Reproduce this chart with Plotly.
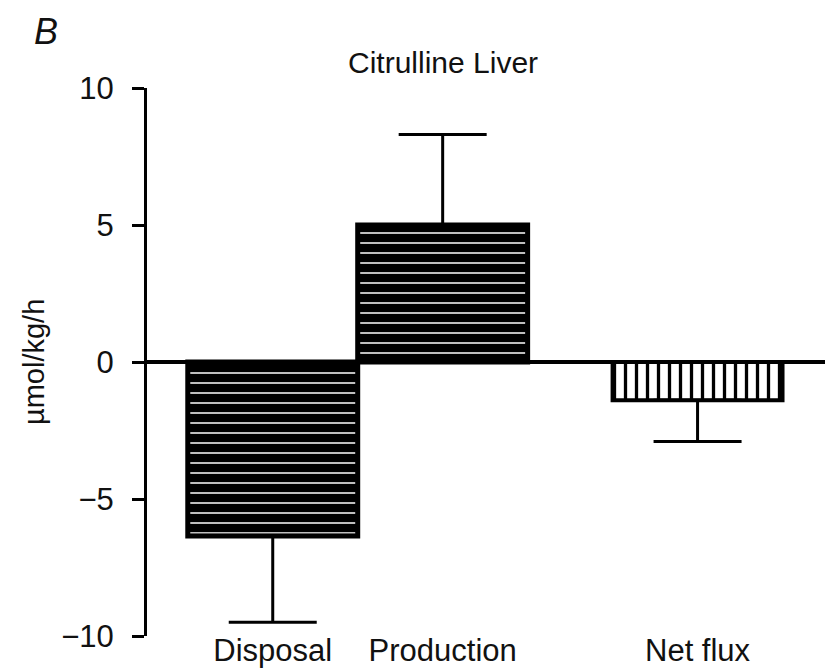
import plotly.graph_objects as go

# Citrulline flux across the liver (mean with one-sided error)
categories = ["Disposal", "Production", "Net flux"]
x_positions = [0, 1, 2.5]
values = [-6.35, 5.0, -1.4]
err_up = [0, 3.3, 0]
err_down = [3.15, 0, 1.5]
y_ticks = [-10, -5, 0, 5, 10]
y_tick_text = ["\u221210", "\u22125", "0", "5", "10"]

FONT = "Liberation Sans, Arial, sans-serif"

# plot area in page pixels
L, R, T, B = 147, 4, 88, 36
W, H = 829, 672
PW, PH = W - L - R, H - T - B

fig = go.Figure()

# Disposal and Production: black bars with thin white horizontal stripes
for i in (0, 1):
    fig.add_trace(go.Bar(
        x=[x_positions[i]], y=[values[i]], width=1.0,
        marker=dict(
            color="black",
            line=dict(color="black", width=5),
            pattern=dict(shape="-", fgcolor="white", bgcolor="black",
                         size=10, solidity=0.15, fillmode="replace"),
        ),
        error_y=dict(type="data", symmetric=False,
                     array=[err_up[i]], arrayminus=[err_down[i]],
                     color="black", thickness=3, width=44),
        showlegend=False,
    ))

# Net flux: white bar with black vertical stripes
fig.add_trace(go.Bar(
    x=[x_positions[2]], y=[values[2]], width=1.0,
    marker=dict(
        color="white",
        line=dict(color="black", width=4),
        pattern=dict(shape="|", fgcolor="black", bgcolor="white",
                     size=11, solidity=0.3, fillmode="replace"),
    ),
    error_y=dict(type="data", symmetric=False,
                 array=[err_up[2]], arrayminus=[err_down[2]],
                 color="black", thickness=3, width=44),
    showlegend=False,
))

fig.update_layout(
    width=W, height=H,
    margin=dict(l=L, r=R, t=T, b=B),
    paper_bgcolor="white", plot_bgcolor="white",
    font=dict(family=FONT, color="#111111"),
    barmode="overlay",
    xaxis=dict(
        range=[-0.74, 3.25],
        tickvals=x_positions, ticktext=categories,
        tickfont=dict(size=31), showline=False, ticks="",
        showgrid=False, zeroline=False, fixedrange=True,
        automargin=False, ticklabelstandoff=-7,
    ),
    yaxis=dict(
        range=[-10, 10], tickvals=y_ticks, ticktext=y_tick_text,
        tickfont=dict(size=31), showline=True, linecolor="black", linewidth=3,
        ticks="outside", ticklen=12, tickwidth=3, tickcolor="black",
        showgrid=False, zeroline=True, zerolinecolor="black", zerolinewidth=4,
        layer="above traces", automargin=False, ticklabelstandoff=12,
    ),
    annotations=[
        dict(text="Citrulline Liver", x=1, xref="x",
             y=1 + (T - 62) / PH, yref="paper", yanchor="middle",
             showarrow=False, font=dict(size=30)),
        dict(text="<i>B</i>", x=-(L - 32) / PW, xref="paper",
             y=1 + (T - 31) / PH, yref="paper", yanchor="middle",
             showarrow=False, font=dict(size=36)),
        dict(text="\u00b5mol/kg/h", textangle=-90, x=-(L - 34) / PW, xref="paper",
             y=0.5, yref="paper", xanchor="center", yanchor="middle",
             showarrow=False, font=dict(size=29)),
    ],
)

fig.write_html("out.html")
